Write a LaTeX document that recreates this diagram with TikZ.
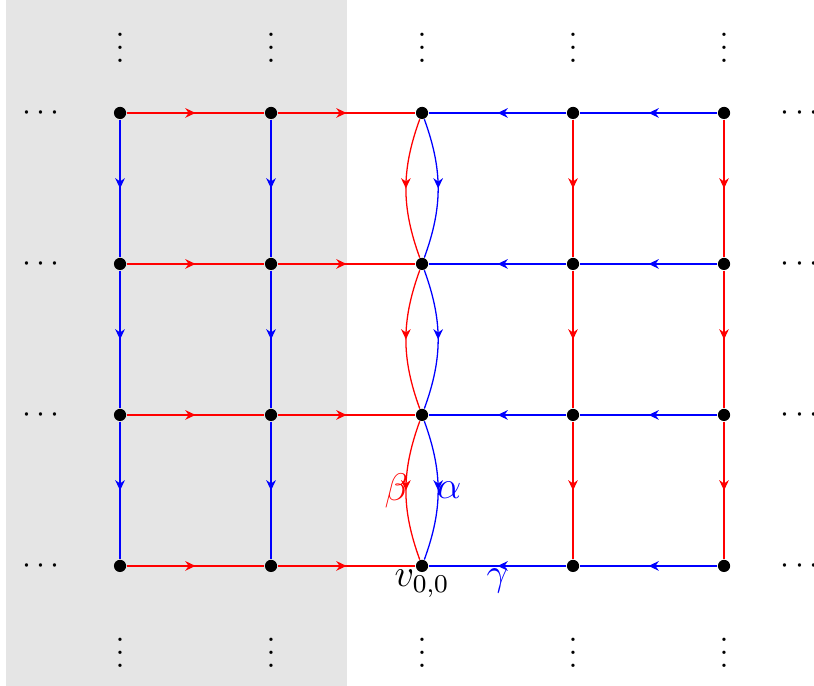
\documentclass[tikz,border=0pt]{standalone}
\usetikzlibrary{decorations.markings,arrows.meta}
\definecolor{bggray}{gray}{0.898}
\tikzset{
  vert/.style={circle,fill=black,inner sep=0pt,minimum size=3.8pt},
  midarrow/.style={postaction={decorate},decoration={markings,mark=at position 0.5 with {\arrow{Stealth[length=3.2pt,width=3pt]}}}},
  redE/.style={red,line width=0.4pt,midarrow},
  blueE/.style={blue,line width=0.4pt,midarrow},
}
\begin{document}
\begin{tikzpicture}[x=1.653cm,y=1.653cm]
\useasboundingbox (-0.795,-3.795) rectangle (4.596,0.748);
\fill[bggray] (-0.755,-3.795) rectangle (1.503,0.748);
% vertices
\foreach \i in {0,...,4}{
  \foreach \j in {0,...,3}{
    \node[vert] (v\i\j) at (\i,-\j) {};
  }
  \node (top\i) at (\i,0.495) {$\vdots$};
  \node (bot\i) at (\i,-3.51) {$\vdots$};
}
\foreach \j in {0,...,3}{
  \node (l\j) at (-0.523,-\j) {$\cdots$};
  \node (r\j) at (4.5,-\j) {$\cdots$};
}
% horizontal edges
\foreach \j in {0,...,3}{
  \draw[redE] (v0\j) -- (v1\j);
  \draw[redE] (v1\j) -- (v2\j);
  \draw[blueE] (v3\j) -- (v2\j);
  \draw[blueE] (v4\j) -- (v3\j);
}
% vertical edges
\foreach \j/\k in {0/1,1/2,2/3}{
  \draw[blueE] (v0\j) -- (v0\k);
  \draw[blueE] (v1\j) -- (v1\k);
  \draw[redE] (v3\j) -- (v3\k);
  \draw[redE] (v4\j) -- (v4\k);
  \draw[redE] (v2\j) to[bend right=20] (v2\k);
  \draw[blueE] (v2\j) to[bend left=20] (v2\k);
}
% labels
\node[red,font=\large] (beta) at (1.83,-2.5) {$\beta$};
\node[blue,font=\large] (alpha) at (2.18,-2.5) {$\alpha$};
\node[font=\large] (vlab) at (2,-3.12) {$v_{0,0}$};
\node[blue,font=\large] (gamma) at (2.5,-3.1) {$\gamma$};
\end{tikzpicture}
\end{document}
